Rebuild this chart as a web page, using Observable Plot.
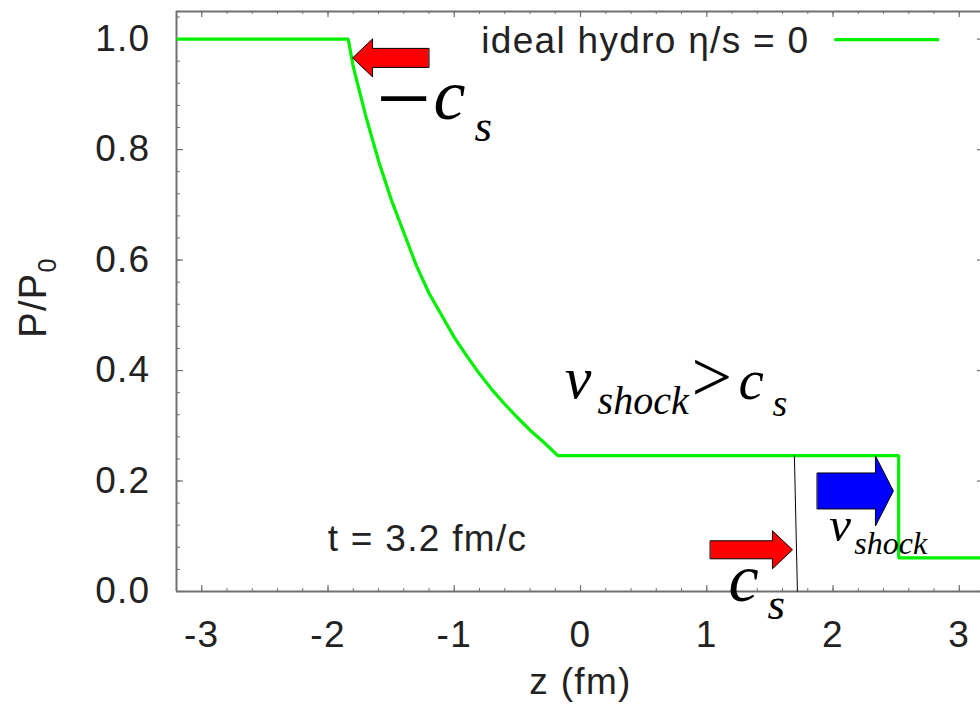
<!DOCTYPE html>
<html><head><meta charset="utf-8">
<script src="https://cdn.jsdelivr.net/npm/d3@7"></script>
<script src="https://cdn.jsdelivr.net/npm/@observablehq/plot@0.6"></script>
<style>
html,body{margin:0;padding:0;background:#fff;overflow:hidden;width:980px;height:713px}
svg text.sans{letter-spacing:1.3px}
</style>
</head><body><div id="chart"></div>
<script>
// ---- data: pressure profile at t = 3.2 fm/c ----
const zPos     = [-3.2, -1.84, -1.8, -1.7, -1.6, -1.5, -1.4, -1.3, -1.2, -1.1, -1.0, -0.9, -0.8, -0.7, -0.6, -0.5, -0.4, -0.3, -0.18, 2.52, 2.52, 3.2];
const pressure = [1.0, 1.0, 0.95, 0.86, 0.78, 0.71, 0.65, 0.59, 0.54, 0.50, 0.46, 0.426, 0.394, 0.365, 0.339, 0.315, 0.292, 0.272, 0.246, 0.246, 0.061, 0.061];

// ---- axes ----
const xMajor = [-3, -2, -1, 0, 1, 2, 3];
const yMajor = [0.0, 0.2, 0.4, 0.6, 0.8, 1.0];
const xMinor = [-3.0,-2.8,-2.6,-2.4,-2.2,-2.0,-1.8,-1.6,-1.4,-1.2,-1.0,-0.8,-0.6,-0.4,-0.2,0,0.2,0.4,0.6,0.8,1.0,1.2,1.4,1.6,1.8,2.0,2.2,2.4,2.6,2.8,3.0];
const yMinor = [0.04,0.08,0.12,0.16,0.2,0.24,0.28,0.32,0.36,0.4,0.44,0.48,0.52,0.56,0.6,0.64,0.68,0.72,0.76,0.8,0.84,0.88,0.92,0.96,1.0,1.04];
const xLabel = "z (fm)";
const yLabel = "P/P0";

// ---- legend / notes ----
const legendLabel = ["ideal hydro η/s = 0"];
const legendLabelZ = [1.813];
const legendLabelP = [0.975];
const legendLineZ = [2.02, 2.83];
const legendLineP = [0.999, 0.999];
const timeLabel = ["t = 3.2 fm/c"];
const timeZ = [-2.003];
const timeP = [0.0737];

// ---- block arrows ----
const arrowTipZ     = [-1.805, 2.478, 1.679];
const arrowTipP     = [0.966, 0.182, 0.0755];
const arrowTailZ    = [-1.203, 1.876, 1.029];
const arrowHeadZ    = [-1.647, 2.336, 1.520];
const arrowBodyHalf = [0.0172, 0.0326, 0.0163];
const arrowHeadHalf = [0.0344, 0.0634, 0.0344];
const arrowFill     = ["#ff0000", "#0000ff", "#ff0000"];

// ---- math annotations ----
const mathText   = ["\u2212", "c", "s", "v", "shock", ">", "c", "s", "v", "shock", "c", "s"];
const mathZ      = [-1.618, -1.164, -0.839, -0.125, 0.135, 0.879, 1.251, 1.520, 1.971, 2.169, 1.172, 1.481];
const mathP      = [0.834, 0.8557, 0.816, 0.3507, 0.3217, 0.3457, 0.3489, 0.3186, 0.0918, 0.0682, -0.0168, -0.0497];
const mathSize   = [97, 72, 45, 60, 40, 72, 57, 38, 49, 32, 68, 45];
const mathItalic = [false, true, true, true, true, false, true, true, true, true, true, true];

// ---- marks ----
const profile = zPos.map((z, i) => ({z, p: pressure[i]}));
const legendLine = legendLineZ.map((z, i) => ({z, p: legendLineP[i]}));

function arrowPolygon(i) {
  const t = arrowTipZ[i], p = arrowTipP[i], tail = arrowTailZ[i], hb = arrowHeadZ[i];
  const b = arrowBodyHalf[i], h = arrowHeadHalf[i];
  return [
    {z: tail, p: p + b}, {z: hb, p: p + b}, {z: hb, p: p + h}, {z: t, p: p},
    {z: hb, p: p - h}, {z: hb, p: p - b}, {z: tail, p: p - b}
  ];
}

// the plotted window is cut at the right, just short of z = 3.2
const zMin = -3.2, zMax = 3.168, pMax = 1.05;
const W = 980, H = 713, mL = 176, mR = 0, mT = 11, mB = 122;
const frameW = W - mL - mR, frameH = H - mT - mB;
const axisColor = "#707070";
const sans = "Liberation Sans, Arial, Helvetica, sans-serif";
const serif = "Liberation Serif, Times New Roman, serif";
const rightEdgeInset = 4; // frame line lies 4px past the window

const marks = [
  // ticks (inward, mirrored)
  Plot.ruleX(xMinor, {stroke: axisColor, strokeWidth: 1, insetTop: frameH - 3}),
  Plot.ruleX(xMinor, {stroke: axisColor, strokeWidth: 1, insetBottom: frameH - 3}),
  Plot.ruleX(xMajor, {stroke: axisColor, strokeWidth: 1.2, insetTop: frameH - 6}),
  Plot.ruleX(xMajor, {stroke: axisColor, strokeWidth: 1.2, insetBottom: frameH - 6}),
  Plot.ruleY(yMinor, {stroke: axisColor, strokeWidth: 1, insetRight: frameW - 4}),
  Plot.ruleY(yMinor, {stroke: axisColor, strokeWidth: 1, insetLeft: frameW - 4 + rightEdgeInset}),
  Plot.ruleY(yMajor, {stroke: axisColor, strokeWidth: 1.2, insetRight: frameW - 7}),
  Plot.ruleY(yMajor, {stroke: axisColor, strokeWidth: 1.2, insetLeft: frameW - 7 + rightEdgeInset}),
  // frame: left, bottom, top (right side falls outside the picture)
  Plot.ruleX([zMin], {stroke: axisColor, strokeWidth: 2}),
  Plot.ruleY([0, pMax], {stroke: axisColor, strokeWidth: 2}),
  Plot.axisX(xMajor, {tickSize: 0, tickPadding: 29, tickFormat: d => String(d), fontSize: 37, fontFamily: sans, fill: "#222", label: null}),
  Plot.axisY(yMajor, {tickSize: 0, tickPadding: 26, tickFormat: d3.format(".1f"), fontSize: 37, fontFamily: sans, fill: "#222", label: null}),
  Plot.text([xLabel], {x: [0], frameAnchor: "bottom", text: d => d, dy: 102, lineAnchor: "bottom", fontSize: 37, fontFamily: sans, fill: "#222"}),
  Plot.text([yLabel], {frameAnchor: "left", text: d => d, textAnchor: "middle", dx: -131, dy: -4, rotate: -90, lineAnchor: "bottom", fontSize: 38, fontFamily: sans, fill: "#222"}),
  // curve
  Plot.line(profile, {x: "z", y: "p", stroke: "#00f000", strokeWidth: 3.2, strokeLinejoin: "miter", strokeLinecap: "butt"}),
  // thin marker line
  Plot.link([{z1: 1.694, p1: 0.246, z2: 1.718, p2: 0}], {x1: "z1", y1: "p1", x2: "z2", y2: "p2", stroke: "#000", strokeWidth: 1}),
  // legend
  Plot.text(legendLabel, {x: legendLabelZ, y: legendLabelP, text: d => d, textAnchor: "end", lineAnchor: "bottom", fontSize: 37, fontFamily: sans, fill: "#222"}),
  Plot.line(legendLine, {x: "z", y: "p", stroke: "#00f000", strokeWidth: 3.2}),
  Plot.text(timeLabel, {x: timeZ, y: timeP, text: d => d, textAnchor: "start", lineAnchor: "bottom", fontSize: 37, fontFamily: sans, fill: "#222"}),
  // arrows
  ...arrowTipZ.map((_, i) => Plot.line(arrowPolygon(i), {x: "z", y: "p", curve: "linear-closed", fill: arrowFill[i], stroke: "#000", strokeWidth: 1, strokeLinejoin: "miter"})),
  // math text
  ...mathText.map((t, i) => Plot.text([t], {x: [mathZ[i]], y: [mathP[i]], text: d => d, textAnchor: "start", lineAnchor: "bottom", fontSize: mathSize[i], fontFamily: serif, fontStyle: mathItalic[i] ? "italic" : "normal", fill: "#000"}))
];

const chart = Plot.plot({
  width: W, height: H,
  marginLeft: mL, marginRight: mR, marginTop: mT, marginBottom: mB,
  x: {domain: [zMin, zMax], axis: null},
  y: {domain: [0, pMax], axis: null},
  style: {background: "#fff", overflow: "visible"},
  marks
});

// sans-serif texts get the wider letter spacing of the original
d3.select(chart).selectAll("text").each(function() {
  const ff = this.getAttribute("font-family") || (this.parentNode && this.parentNode.getAttribute("font-family")) || "";
  if (ff.startsWith("Liberation Sans")) this.classList.add("sans");
});
// subscript for P/P0
d3.select(chart).selectAll("text").each(function() {
  if (this.textContent === yLabel) {
    const t = d3.select(this);
    t.text(null);
    t.append("tspan").text("P/P");
    t.append("tspan").attr("dy", "0.4em").attr("font-size", 25).text("0");
  }
});

document.getElementById("chart").appendChild(chart);
</script>
</body></html>
